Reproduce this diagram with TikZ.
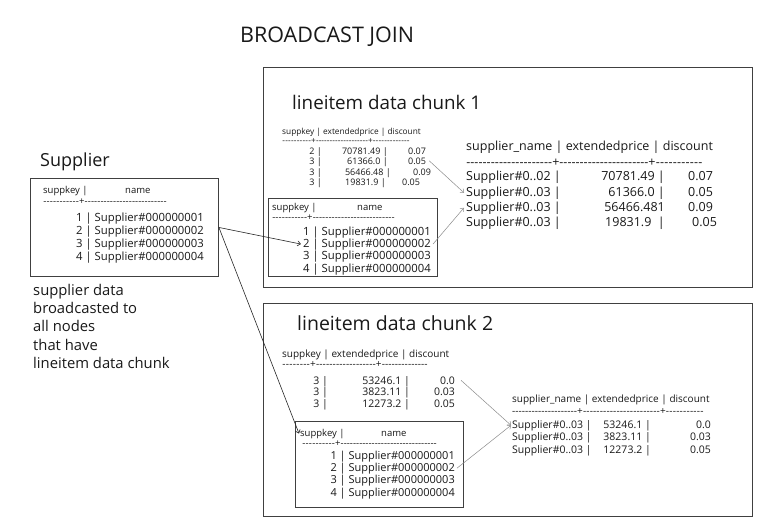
\documentclass[tikz,border=0pt]{standalone}
\usepackage{fontspec}
\setmainfont{Open Sans}
\usetikzlibrary{arrows.meta}
\newcommand{\dfill}[1]{\makebox[#1pt]{\xleaders\hbox{-}\hfill}}
\newcommand{\drule}[3]{\dfill{#1}+\dfill{#2}+\dfill{#3}}
\newcommand{\druletwo}[2]{\dfill{#1}+\dfill{#2}}
\begin{document}
\begin{tikzpicture}[x=1pt,y=-1pt,
  t/.style={inner sep=0pt, anchor=base west, font=\fontsize{#1}{#1}\selectfont, text=black!90},
  te/.style={t=#1, anchor=base east},
  frame/.style={draw=black!75, line width=0.9pt, anchor=north west, inner sep=0pt},
  conn/.style={draw=black!85, line width=0.6pt, -{Straight Barb[length=3pt,width=5pt]}},
  gconn/.style={draw=black!45, line width=0.5pt, -{Straight Barb[length=3pt,width=5pt]}},
]
\useasboundingbox (0,0) rectangle (760,525);
\fill[white] (0,0) rectangle (760,525);

% title
\node[t=21.5] (title) at (240,42) {BROADCAST JOIN};

% frames
\node[frame, minimum width=489, minimum height=220] (chunk1) at (263,67) {};
\node[frame, minimum width=489, minimum height=213] (chunk2) at (263,303) {};
\node[frame, minimum width=188, minimum height=98] (supbox) at (30,178) {};
\node[frame, minimum width=169, minimum height=78] (in1) at (268,198) {};
\node[frame, minimum width=168, minimum height=86] (in2) at (295,421) {};

% titles
\node[t=18.8] (chunk1title) at (292,109) {lineitem data chunk 1};
\node[t=19.5] (chunk2title) at (297,330) {lineitem data chunk 2};
\node[t=18] (suptitle) at (40,166) {Supplier};
\node[t=14.8, font=\fontsize{14.8}{18.2}\selectfont, align=left, anchor=north west] (note) at (33,284)
  {supplier data\\broadcasted to\\all nodes\\that have\\lineitem data chunk};

% supplier table
\node[t=9.5] (suph1) at (43,193) {suppkey |};
\node[t=9.5] (suph2) at (125,193) {name};
\node[t=9.5] (supd) at (43,204) {\druletwo{36}{82}};
\node[te=11.3] (supr1) at (204,221) {1 | Supplier\#000000001};
\node[te=11.3] (supr2) at (204,234) {2 | Supplier\#000000002};
\node[te=11.3] (supr3) at (204,247) {3 | Supplier\#000000003};
\node[te=11.3] (supr4) at (204,260) {4 | Supplier\#000000004};

% chunk 1 inner supplier table
\node[t=9.5] (in1h1) at (272,210) {suppkey |};
\node[t=9.5] (in1h2) at (357,210) {name};
\node[t=9.5] (in1d) at (272,220) {\druletwo{35}{82}};
\node[te=11.3] (in1r1) at (431,235) {1 | Supplier\#000000001};
\node[te=11.3] (in1r2) at (431,247) {2 | Supplier\#000000002};
\node[te=11.3] (in1r3) at (431,259) {3 | Supplier\#000000003};
\node[te=11.3] (in1r4) at (431,272) {4 | Supplier\#000000004};

% chunk 1 lineitem table
\node[t=8.3] (c1h) at (282,134) {suppkey | extendedprice | discount};
\node[t=8.3] (c1d) at (282,143) {\drule{29}{52}{37}};
\node[te=9] (c1r1k) at (322,154) {2 |};
\node[te=9] (c1r1p) at (388,154) {70781.49 |};
\node[t=9]  (c1r1d) at (408,154) {0.07};
\node[te=9] (c1r2k) at (322,164) {3 |};
\node[te=9] (c1r2p) at (388,164) {61366.0 |};
\node[t=9]  (c1r2d) at (408,164) {0.05};
\node[te=9] (c1r3k) at (322,175) {3 |};
\node[te=9] (c1r3p) at (391,175) {56466.48 |};
\node[t=9]  (c1r3d) at (413,175) {0.09};
\node[te=9] (c1r4k) at (322,185) {3 |};
\node[te=9] (c1r4p) at (386,185) {19831.9 |};
\node[t=9]  (c1r4d) at (402,185) {0.05};

% chunk 1 result table
\node[t=12.5] (r1h) at (466,150) {supplier\_name | extendedprice | discount};
\node[t=12.5] (r1d) at (466,166) {\drule{86}{89}{47}};
\node[t=12.5]  (r1r1c) at (466,180) {Supplier\#0..02 |};
\node[te=12.5] (r1r1p) at (665,180) {70781.49 |};
\node[t=12.5]  (r1r1d) at (688,180) {0.07};
\node[t=12.5]  (r1r2c) at (466,196) {Supplier\#0..03 |};
\node[te=12.5] (r1r2p) at (665,196) {61366.0 |};
\node[t=12.5]  (r1r2d) at (688,196) {0.05};
\node[t=12.5]  (r1r3c) at (466,211) {Supplier\#0..03 |};
\node[te=12.5] (r1r3p) at (665,211) {56466.481};
\node[t=12.5]  (r1r3d) at (688,211) {0.09};
\node[t=12.5]  (r1r4c) at (466,226) {Supplier\#0..03 |};
\node[te=12.5] (r1r4p) at (665,226) {19831.9\ \ |};
\node[t=12.5]  (r1r4d) at (692,226) {0.05};

% chunk 2 lineitem table
\node[t=10] (c2h) at (282,357) {suppkey | extendedprice | discount};
\node[t=10] (c2d) at (282,367) {\drule{28}{60}{46}};
\node[te=10.5] (c2r1k) at (328,384) {3 |};
\node[te=10.5] (c2r1p) at (410,384) {53246.1 |};
\node[te=10.5] (c2r1d) at (455,384) {0.0};
\node[te=10.5] (c2r2k) at (328,395) {3 |};
\node[te=10.5] (c2r2p) at (410,395) {3823.11 |};
\node[te=10.5] (c2r2d) at (455,395) {0.03};
\node[te=10.5] (c2r3k) at (328,407) {3 |};
\node[te=10.5] (c2r3p) at (410,407) {12273.2 |};
\node[te=10.5] (c2r3d) at (455,407) {0.05};

% chunk 2 inner supplier table
\node[t=9.5] (in2h1) at (300,436) {suppkey |};
\node[t=9.5] (in2h2) at (381,436) {name};
\node[t=9.5] (in2d) at (302,446) {\druletwo{33}{96}};
\node[te=11] (in2r1) at (455,459) {1 | Supplier\#000000001};
\node[te=11] (in2r2) at (455,471) {2 | Supplier\#000000002};
\node[te=11] (in2r3) at (455,483) {3 | Supplier\#000000003};
\node[te=11] (in2r4) at (455,496) {4 | Supplier\#000000004};

% chunk 2 result table
\node[t=10] (r2h) at (512,402) {supplier\_name | extendedprice | discount};
\node[t=10] (r2d) at (512,414) {\drule{65}{77}{38}};
\node[t=10.5]  (r2r1c) at (512,428) {Supplier\#0..03 |};
\node[te=10.5] (r2r1p) at (651,428) {53246.1 |};
\node[te=10.5] (r2r1d) at (711,428) {0.0};
\node[t=10.5]  (r2r2c) at (512,440) {Supplier\#0..03 |};
\node[te=10.5] (r2r2p) at (651,440) {3823.11 |};
\node[te=10.5] (r2r2d) at (711,440) {0.03};
\node[t=10.5]  (r2r3c) at (512,453) {Supplier\#0..03 |};
\node[te=10.5] (r2r3p) at (651,453) {12273.2 |};
\node[te=10.5] (r2r3d) at (711,453) {0.05};

% connectors
\draw[conn] (supbox.east) -- ([xshift=-2pt]in1r2.west);
\draw[conn] (supbox.east) -- ([xshift=-1pt]in2h1.west);
\draw[gconn] ([shift={(3,0)}]c1r2d.east) -- ([xshift=-2pt]r1r2c.west);
\draw[gconn] ([xshift=2pt]in1r2.east) -- ([xshift=-2pt]r1r3c.west);
\draw[gconn] ([xshift=6pt]c2r1d.east) -- ([xshift=-1pt]r2r1c.west);
\draw[gconn] ([xshift=2pt]in2r2.east) -- ([xshift=-1pt]r2r1c.west);
\end{tikzpicture}
\end{document}
